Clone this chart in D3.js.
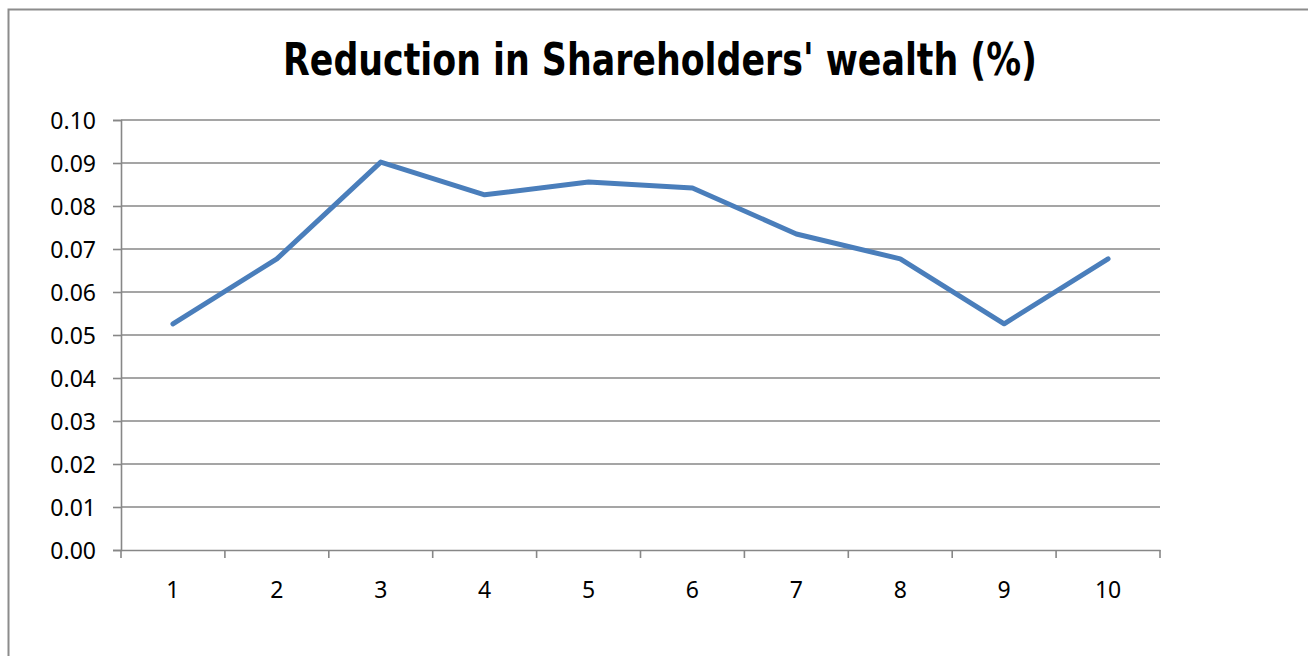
<!DOCTYPE html>
<html>
<head>
<meta charset="utf-8">
<style>
  html, body { margin: 0; padding: 0; background: #fff; }
  svg { display: block; }
  .tick text { font-family: "Noto Sans", "Open Sans", sans-serif; font-size: 23px; fill: #000; }
</style>
<script src="https://cdn.jsdelivr.net/npm/d3@7"></script>
</head>
<body>
<div id="chart"></div>
<script>
// data
var categories = ["1", "2", "3", "4", "5", "6", "7", "8", "9", "10"];
var values = [0.0526, 0.0677, 0.0902, 0.0826, 0.0856, 0.0842, 0.0735, 0.0677, 0.0526, 0.0677];
var yTicks = [0, 0.01, 0.02, 0.03, 0.04, 0.05, 0.06, 0.07, 0.08, 0.09, 0.10];
var title = "Reduction in Shareholders' wealth (%)";

var width = 1308, height = 656;
var margin = {top: 120, left: 121, right: 148, bottom: 106};

var svg = d3.select("#chart").append("svg")
    .attr("width", width)
    .attr("height", height);

// chart frame (only top and left edges are in view)
svg.append("path")
    .attr("d", "M8.5,656 V9.5 H1308")
    .attr("fill", "none")
    .attr("stroke", "#8c8c8c")
    .attr("stroke-width", 2);

svg.append("text")
    .attr("x", 660)
    .attr("y", 75)
    .attr("text-anchor", "middle")
    .style("font-family", "'Liberation Sans Narrow', 'DejaVu Sans Condensed', sans-serif")
    .style("font-weight", "bold")
    .style("font-stretch", "condensed")
    .style("font-size", "45px")
    .attr("textLength", 754)
    .attr("lengthAdjust", "spacingAndGlyphs")
    .text(title);

var x = d3.scaleBand()
    .domain(categories)
    .range([margin.left, width - margin.right]);

var y = d3.scaleLinear()
    .domain([0, 0.10])
    .range([height - margin.bottom, margin.top]);

// gridlines
svg.append("g")
  .selectAll("line")
  .data(yTicks.slice(1))
  .join("line")
    .attr("x1", margin.left)
    .attr("x2", width - margin.right)
    .attr("y1", d => y(d))
    .attr("y2", d => y(d))
    .attr("stroke", "#878787")
    .attr("stroke-width", 1.6);

// y axis
var yAxis = svg.append("g")
    .attr("transform", "translate(" + margin.left + ",0)")
    .call(d3.axisLeft(y).tickValues(yTicks).tickFormat(d3.format(".2f")).tickSize(8).tickPadding(17));
yAxis.selectAll("path, line").attr("stroke", "#878787").attr("stroke-width", 1.6);
yAxis.selectAll("text").attr("dy", "0.35em");

// x axis, ticks sit between categories
var xAxis = svg.append("g")
    .attr("transform", "translate(0," + y(0) + ")")
    .call(d3.axisBottom(x).tickSize(0).tickPadding(32));
xAxis.select(".domain").attr("stroke", "#878787").attr("stroke-width", 1.6);
xAxis.selectAll("text").attr("dy", "0.71em");

var bounds = categories.map(c => x(c)).concat([x.range()[1]]);
xAxis.selectAll(".sep")
  .data(bounds)
  .join("line")
    .attr("class", "sep")
    .attr("x1", d => d)
    .attr("x2", d => d)
    .attr("y1", 0)
    .attr("y2", 8)
    .attr("stroke", "#878787")
    .attr("stroke-width", 1.6);

// series line
var line = d3.line()
    .x((d, i) => x(categories[i]) + x.bandwidth() / 2)
    .y(d => y(d));

svg.append("path")
    .datum(values)
    .attr("d", line)
    .attr("fill", "none")
    .attr("stroke", "#4a7ebb")
    .attr("stroke-width", 5)
    .attr("stroke-linejoin", "round")
    .attr("stroke-linecap", "round");
</script>
</body>
</html>
